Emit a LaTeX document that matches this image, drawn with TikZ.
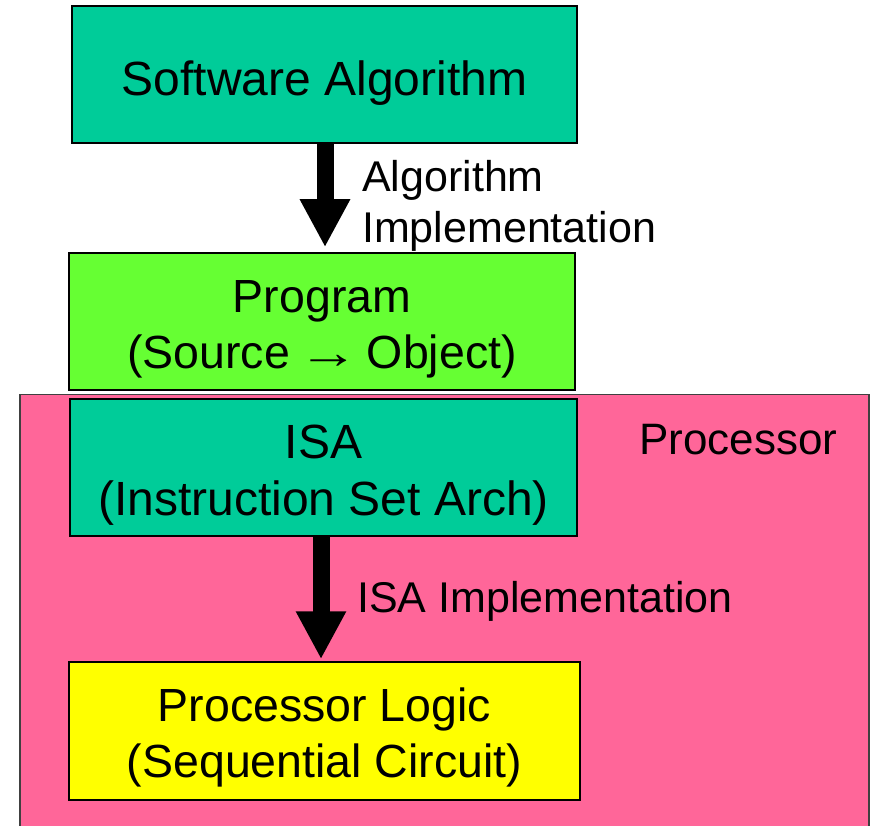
\documentclass[tikz,border=0pt]{standalone}
\usepackage{fontspec}
\usepackage{graphicx}
\setmainfont{Liberation Sans}
\usetikzlibrary{arrows.meta}
\definecolor{boxteal}{HTML}{00CC99}
\definecolor{boxgreen}{HTML}{66FF33}
\definecolor{boxyellow}{HTML}{FFFF00}
\definecolor{procpink}{HTML}{FF6699}
% invisible strut that sets the height of a first text line
\newcommand\firstline[1]{\rule{0pt}{#1}}
% a long, thin arrow for running text
\newcommand\longarrow{\kern-0.1em\scalebox{1.3}[1]{→}\kern-0.1em}
\begin{document}
\begin{tikzpicture}[x=1pt,y=-1pt,
  box/.style={draw=black, line width=1.5pt, minimum height=137pt, inner sep=0pt,
    align=center, font=\fontsize{46.5}{56}\selectfont},
  lbl/.style={inner sep=0pt, align=left, font=\fontsize{43}{51}\selectfont},
  bigarrow/.style={line width=17pt, -{Triangle[width=47pt,length=48pt]}}]
\useasboundingbox (0,0) rectangle (871,826);

% processor area, running off the bottom edge
\node[draw=black!75, line width=1.5pt, fill=procpink, anchor=north west,
  minimum width=849pt, minimum height=450pt, inner sep=0pt] (proc) at (19,394) {};
\node[lbl, anchor=base west, font=\fontsize{44}{52}\selectfont] (proclbl) at (639,455) {Processor};

% layer boxes
\node[box, fill=boxteal, minimum width=505pt, font=\fontsize{48}{56}\selectfont]
  (sw) at (324.5,74.5) {\firstline{51pt}Software Algorithm};
\node[box, fill=boxgreen, minimum width=506pt]
  (prog) at (322,321.5) {\firstline{47pt}Program\\(Source \longarrow{} Object)};
\node[box, fill=boxteal, minimum width=507pt, font=\fontsize{48}{57}\selectfont]
  (isa) at (323.5,467.5) {\firstline{48pt}ISA\\(Instruction Set Arch)};
\node[box, fill=boxyellow, minimum width=511pt, minimum height=138pt]
  (logic) at (324.5,731) {\firstline{47pt}Processor Logic\\(Sequential Circuit)};

% implementation steps
\draw[bigarrow, shorten >=5pt] ([xshift=0.5pt]sw.south) -- ([xshift=0.5pt]sw.south |- prog.north);
\draw[bigarrow, shorten >=2pt] ([xshift=-2.5pt]isa.south) -- ([xshift=-2.5pt]isa.south |- logic.north);

\node[lbl, anchor=west] (algimp) at (362,206) {Algorithm\\Implementation};
\node[lbl, anchor=base west] (isaimp) at (357,612) {ISA Implementation};
\end{tikzpicture}
\end{document}
